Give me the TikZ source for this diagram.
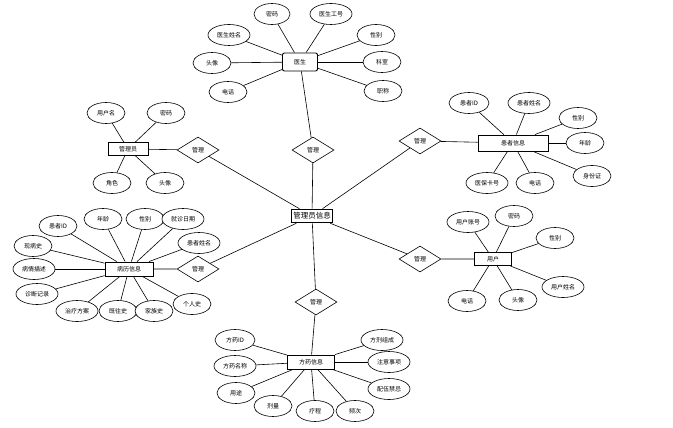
\documentclass[tikz,border=0pt]{standalone}
\usepackage{fontspec}
\setmainfont{Noto Sans CJK SC}
\usetikzlibrary{shapes.geometric}

\begin{document}
\begin{tikzpicture}[x=1pt, y=-1pt, line width=0.6pt,
    attr/.style={ellipse, draw, fill=white, minimum width=38, minimum height=21, inner xsep=1pt, font=\fontsize{6}{7}\selectfont},
    entity/.style={rectangle, draw, fill=white, line width=0.9pt, minimum height=13, inner xsep=4pt, font=\fontsize{6}{7}\selectfont},
    rel/.style={diamond, draw, fill=white, aspect=1.7, inner sep=1pt, minimum width=42, minimum height=26, font=\fontsize{6}{7}\selectfont}]
    \useasboundingbox (0,0) rectangle (673,428);

    % centre
    \node[entity, font=\fontsize{7.5}{8}\selectfont, inner xsep=2pt] (mgr) at (312,216) {管理员信息};

    % relations
    \node[rel] (r1) at (313,150) {管理};
    \node[rel] (r2) at (198,150) {管理};
    \node[rel] (r3) at (420,141) {管理};
    \node[rel] (r4) at (198,269) {管理};
    \node[rel] (r5) at (420,259) {管理};
    \node[rel] (r6) at (316,302) {管理};

    % entities
    \node[entity, rounded corners=2pt, minimum width=35, minimum height=18] (doc) at (300,62) {医生};
    \node[entity, minimum width=40] (adm) at (128,149) {管理员};
    \node[entity, minimum width=70, minimum height=16] (pat) at (513,143) {患者信息};
    \node[entity, minimum width=48, minimum height=14] (rec) at (129,269) {病历信息};
    \node[entity, minimum width=37] (usr) at (493,259) {用户};
    \node[entity, minimum width=47, minimum height=14] (drg) at (311,362) {方药信息};

    \draw (mgr) -- (r1) -- (doc);
    \draw (mgr) -- (r2) -- (adm);
    \draw (mgr) -- (r3) -- (pat);
    \draw (mgr) -- (r4) -- (rec);
    \draw (mgr) -- (r5) -- (usr);
    \draw (mgr) -- (r6) -- (drg);

    % doctor
    \node[attr, minimum width=36] (d1) at (272,14) {密码};
    \node[attr, minimum width=42] (d2) at (331,14) {医生工号};
    \node[attr, minimum width=42] (d3) at (229,35) {医生姓名};
    \node[attr] (d4) at (376,35) {性别};
    \node[attr] (d5) at (212,63) {头像};
    \node[attr] (d6) at (382,62) {科室};
    \node[attr] (d7) at (228,92) {电话};
    \node[attr] (d8) at (383,91) {职称};
    \foreach \a in {d1,d2,d3,d4,d5,d6,d7,d8} \draw (\a) -- (doc);

    % admin
    \node[attr] (a1) at (106,113) {用户名};
    \node[attr] (a2) at (166,113) {密码};
    \node[attr] (a3) at (112,183) {角色};
    \node[attr] (a4) at (165,183) {头像};
    \foreach \a in {a1,a2,a3,a4} \draw (\a) -- (adm);

    % patient
    \node[attr, minimum width=40] (p1) at (469,103) {患者ID};
    \node[attr, minimum width=42] (p2) at (529,103) {患者姓名};
    \node[attr] (p3) at (578,118) {性别};
    \node[attr] (p4) at (585,143) {年龄};
    \node[attr] (p5) at (592,176) {身份证};
    \node[attr, minimum width=42] (p6) at (487,183) {医保卡号};
    \node[attr] (p7) at (535,183) {电话};
    \foreach \a in {p1,p2,p3,p4,p5,p6,p7} \draw (\a) -- (pat);

    % record
    \node[attr] (b1) at (58,226) {患者ID};
    \node[attr] (b2) at (103,219) {年龄};
    \node[attr] (b3) at (145,219) {性别};
    \node[attr, minimum width=42] (b4) at (183,219) {就诊日期};
    \node[attr, minimum width=42] (b5) at (199,243) {患者姓名};
    \node[attr] (b6) at (33,246) {现病史};
    \node[attr, minimum width=42] (b7) at (34,269) {病情描述};
    \node[attr, minimum width=42] (b8) at (37,294) {诊断记录};
    \node[attr, minimum width=42] (b9) at (77,311) {治疗方案};
    \node[attr] (b10) at (118,311) {既往史};
    \node[attr] (b11) at (154,311) {家族史};
    \node[attr] (b12) at (192,304) {个人史};
    \foreach \a in {b1,b2,b3,b4,b5,b6,b7,b8,b9,b10,b11,b12} \draw (\a) -- (rec);

    % user
    \node[attr, minimum width=42] (u1) at (468,222) {用户账号};
    \node[attr] (u2) at (514,216) {密码};
    \node[attr] (u3) at (555,238) {性别};
    \node[attr, minimum width=42] (u4) at (563,287) {用户姓名};
    \node[attr] (u5) at (467,301) {电话};
    \node[attr] (u6) at (518,300) {头像};
    \foreach \a in {u1,u2,u3,u4,u5,u6} \draw (\a) -- (usr);

    % drug
    \node[attr, minimum width=40] (m1) at (235,340) {方药ID};
    \node[attr, minimum width=42] (m2) at (235,366) {方药名称};
    \node[attr] (m3) at (236,393) {用途};
    \node[attr] (m4) at (273,406) {剂量};
    \node[attr] (m5) at (315,411) {疗程};
    \node[attr] (m6) at (355,411) {频次};
    \node[attr, minimum width=42] (m7) at (382,340) {方剂组成};
    \node[attr, minimum width=42] (m8) at (389,362) {注意事项};
    \node[attr, minimum width=42] (m9) at (389,389) {配伍禁忌};
    \foreach \a in {m1,m2,m3,m4,m5,m6,m7,m8,m9} \draw (\a) -- (drg);
\end{tikzpicture}
\end{document}
